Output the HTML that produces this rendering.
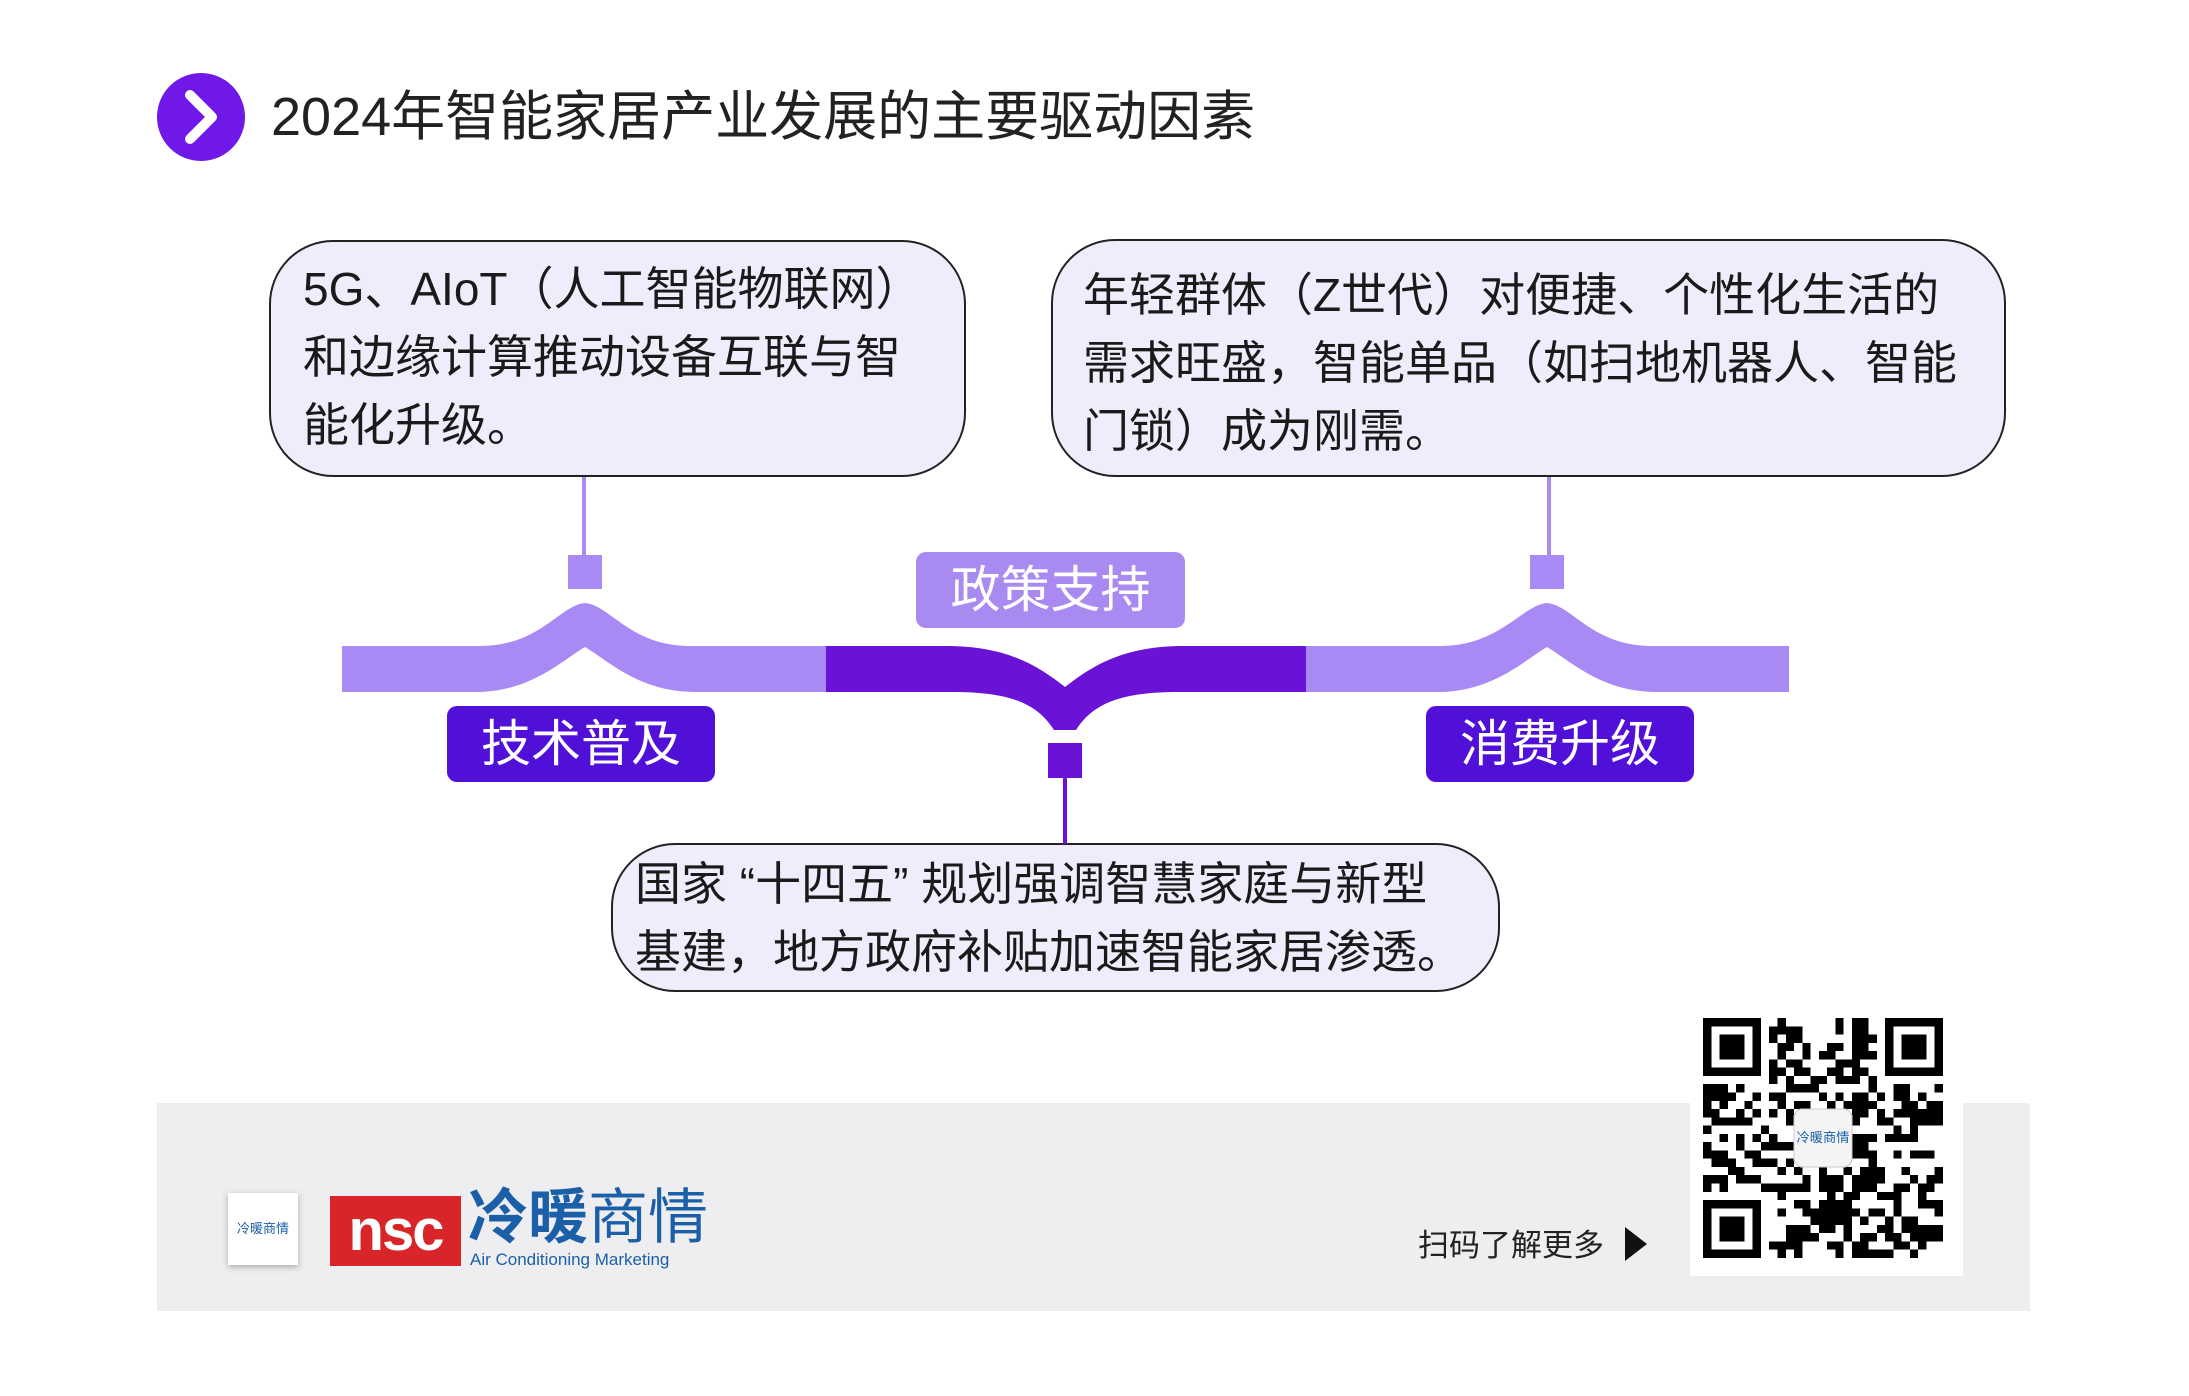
<!DOCTYPE html>
<html><head><meta charset="utf-8"><style>
body{margin:0;width:2189px;height:1396px;background:#fff;position:relative;overflow:hidden;font-family:"Liberation Sans","Noto Sans CJK SC",sans-serif;}
.box{position:absolute;background:#efedfb;border:2.5px solid #222;border-radius:64px;box-sizing:border-box;color:#1a1a1a;font-size:46px;line-height:68px;}
.lab{position:absolute;border-radius:10px;color:#fff;font-size:50px;text-align:center;}
</style></head><body>
<svg width="88" height="88" style="position:absolute;left:157px;top:73px"><circle cx="44" cy="44" r="44" fill="#7018e8"/><path d="M33 22 L55 44 L33 66" stroke="#fff" stroke-width="10" fill="none" stroke-linecap="round" stroke-linejoin="round"/></svg>
<div style="position:absolute;left:271px;top:80px;font-size:54px;line-height:74px;color:#222">2024年智能家居产业发展的主要驱动因素</div>

<div class="box" style="left:269px;top:240px;width:697px;height:237px;padding:13px 0 0 32px">5G、AIoT（人工智能物联网）<br>和边缘计算推动设备互联与智<br>能化升级。</div>
<div class="box" style="left:1051px;top:239px;width:955px;height:238px;padding:20px 0 0 30px">年轻群体（Z世代）对便捷、个性化生活的<br>需求旺盛，智能单品（如扫地机器人、智能<br>门锁）成为刚需。</div>
<div class="box" style="left:611px;top:843px;width:889px;height:149px;padding:5px 0 0 22px">国家 “十四五” 规划强调智慧家庭与新型<br>基建，地方政府补贴加速智能家居渗透。</div>

<svg width="2189" height="1396" style="position:absolute;left:0;top:0">
<rect x="582" y="477" width="4" height="78" fill="#a98af5"/>
<rect x="568" y="555" width="34" height="34" fill="#a98af5"/>
<rect x="1547" y="477" width="4" height="78" fill="#a98af5"/>
<rect x="1530" y="555" width="34" height="34" fill="#a98af5"/>
<path d="M342,646 L480,646 C540,646 560,605 585,603 C610,605 630,646 690,646 L826,646 L826,692 L695,692 C640,692 610,662 585,647 C560,662 530,692 475,692 L342,692 Z" fill="#a98af5"/>
<path d="M1306,646 L1440,646 C1500,646 1522,605 1547,603 C1572,605 1592,646 1652,646 L1789,646 L1789,692 L1657,692 C1602,692 1572,662 1547,647 C1522,662 1492,692 1437,692 L1306,692 Z" fill="#a98af5"/>
<path d="M826,646 L946,646 C1006,646 1037,665 1065,687 C1093,665 1124,646 1184,646 L1306,646 L1306,692 L1178,692 C1118,692 1092,705 1076,730 L1054,730 C1038,705 1013,692 953,692 L826,692 Z" fill="#6a12d6"/>
<rect x="1048" y="743" width="34" height="35" fill="#6a12d6"/>
<rect x="1063" y="778" width="4" height="66" fill="#6a12d6"/>
</svg>
<div class="lab" style="left:916px;top:552px;width:269px;height:76px;line-height:76px;background:#a98af0">政策支持</div>
<div class="lab" style="left:447px;top:706px;width:268px;height:76px;line-height:76px;background:#5010d8">技术普及</div>
<div class="lab" style="left:1426px;top:706px;width:268px;height:76px;line-height:76px;background:#5010d8">消费升级</div>

<div style="position:absolute;left:157px;top:1103px;height:208px;background:#eeeef0;width:1873px"></div>
<div style="position:absolute;left:228px;top:1193px;width:70px;height:72px;background:#fff;box-shadow:0 2px 6px #aaa;font-size:13px;color:#1a5fa8;line-height:72px;text-align:center">冷暖商情</div>
<div style="position:absolute;left:330px;top:1196px;width:131px;height:70px;background:#d7252a;color:#fff;font-size:58px;font-weight:bold;line-height:70px;text-align:center;letter-spacing:-2px">nsc</div>
<div style="position:absolute;left:468px;top:1186px;font-size:60px;color:#1a5fa8;font-weight:bold;line-height:64px">冷暖<span style="font-weight:normal">商情</span></div>
<div style="position:absolute;left:470px;top:1250px;font-size:17px;color:#1a5fa8">Air Conditioning Marketing</div>
<div style="position:absolute;left:1418px;top:1220px;font-size:31px;color:#222">扫码了解更多</div>
<svg width="26" height="34" style="position:absolute;left:1623px;top:1227px"><path d="M2 0 L24 17 L2 34Z" fill="#111"/></svg>
<div style="position:absolute;left:1690px;top:1008px;width:273px;height:268px;background:#fff"></div>
<svg id="qr" width="240" height="240" viewBox="0 0 29 29" style="position:absolute;left:1703px;top:1018px" shape-rendering="crispEdges"></svg>
<script>
(function(){var s=document.getElementById('qr'),h='',seed=7;function r(){seed=(seed*1103515245+12345)%2147483648;return seed/2147483648;}
function f(x,y){return (x<8&&y<8)||(x>20&&y<8)||(x<8&&y>20);}
for(var y=0;y<29;y++)for(var x=0;x<29;x++){if(f(x,y))continue;if(x>10&&x<18&&y>10&&y<18)continue;if(r()<0.5)h+='<rect x="'+x+'" y="'+y+'" width="1" height="1"/>';}
[[0,0],[22,0],[0,22]].forEach(function(p){h+='<rect x="'+(p[0]+0.5)+'" y="'+(p[1]+0.5)+'" width="6" height="6" fill="none" stroke="#000" stroke-width="1"/><rect x="'+(p[0]+2)+'" y="'+(p[1]+2)+'" width="3" height="3"/>';});
h+='<rect x="11" y="11" width="7" height="7" rx="1" fill="#f4f4f6" stroke="#ccc" stroke-width="0.15"/><text x="14.5" y="15" font-size="1.6" text-anchor="middle" fill="#1a5fa8" font-family="Noto Sans CJK SC,sans-serif">冷暖商情</text>';
s.innerHTML=h;})();
</script>
</body></html>
